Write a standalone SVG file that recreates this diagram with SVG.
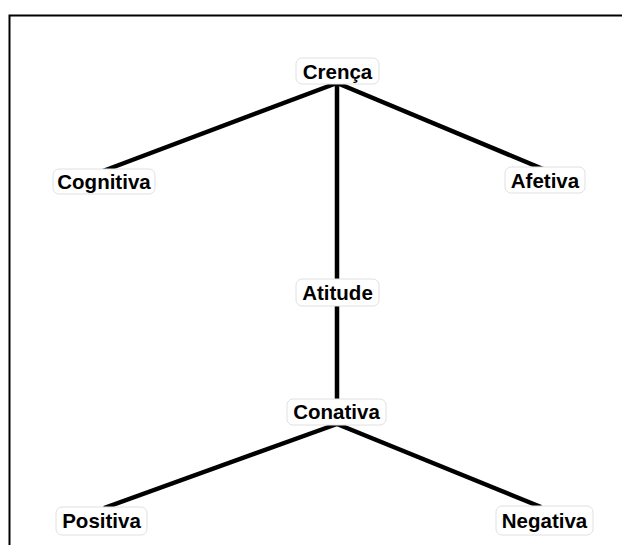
<svg xmlns="http://www.w3.org/2000/svg" width="622" height="545" viewBox="0 0 622 545">
<style>
.node rect{fill:#fff;stroke:#e0e0e0;stroke-width:1}
.node text{font-family:"Liberation Sans",Arial,sans-serif;font-weight:bold;font-size:20.5px;fill:#000;text-anchor:middle;dominant-baseline:central}
.conn line{stroke:#000;stroke-width:4.5;stroke-linecap:butt}
</style>
<rect x="0" y="0" width="622" height="545" fill="#fff"/>
<path d="M9.5 560 V15.5 H640" fill="none" stroke="#000" stroke-width="2"/>
<g class="conn">
<line x1="337" y1="83" x2="103" y2="171"/>
<line x1="337" y1="83" x2="543" y2="169"/>
<line x1="337" y1="83" x2="337" y2="401"/>
<line x1="337" y1="424" x2="104" y2="508"/>
<line x1="337" y1="424" x2="541" y2="507"/>
</g>
<g id="crenca" class="node"><rect x="296" y="58" width="83" height="26" rx="6"/><text x="337.5" y="71">Crença</text></g>
<g id="cognitiva" class="node"><rect x="53" y="169" width="102" height="25" rx="6"/><text x="104" y="181">Cognitiva</text></g>
<g id="afetiva" class="node"><rect x="505" y="167" width="80" height="26" rx="6"/><text x="545" y="180">Afetiva</text></g>
<g id="atitude" class="node"><rect x="296" y="279" width="83" height="27" rx="6"/><text x="337.5" y="292">Atitude</text></g>
<g id="conativa" class="node"><rect x="287" y="399" width="99" height="26" rx="6"/><text x="336.5" y="411">Conativa</text></g>
<g id="positiva" class="node"><rect x="56" y="507" width="91" height="28" rx="6"/><text x="101.5" y="520">Positiva</text></g>
<g id="negativa" class="node"><rect x="496" y="506" width="97" height="29" rx="6"/><text x="544.5" y="520">Negativa</text></g>
</svg>
